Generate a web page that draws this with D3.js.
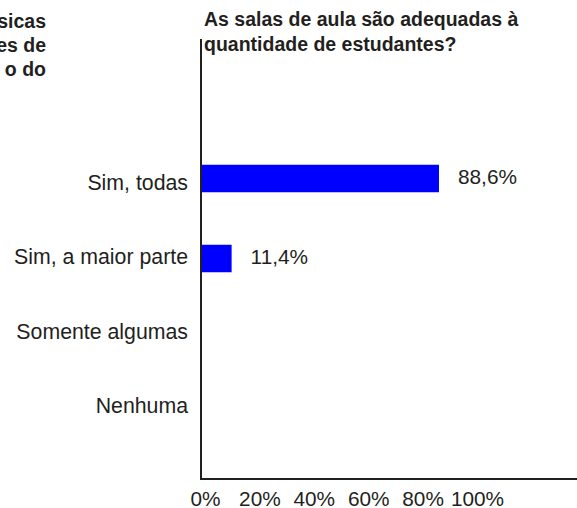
<!DOCTYPE html>
<html>
<head>
<meta charset="utf-8">
<script src="https://cdn.jsdelivr.net/npm/d3@7"></script>
<style>
  body { margin: 0; background: #fff; }
  text { font-family: "Liberation Sans", Arial, sans-serif; fill: #231f20; }
</style>
</head>
<body>
<div class="box"></div>
<script>
// DATA
const categories = ['Sim, todas', 'Sim, a maior parte', 'Somente algumas', 'Nenhuma'];
const values = [88.6, 11.4, 0, 0];
const valueLabels = ['88,6%', '11,4%', '', ''];
const tickValues = [0, 20, 40, 60, 80, 100];
const tickLabels = ['0%', '20%', '40%', '60%', '80%', '100%'];
const titleLines = ['As salas de aula são adequadas à', 'quantidade de estudantes?'];
// cut-off title of the neighbouring chart
const sideLines = ['sicas', 'es de', 'o do'];

// SETUP
const dims = {width: 577, height: 508};

const svg = d3.select('.box')
              .append('svg')
              .attr('width', dims.width)
              .attr('height', dims.height);

// scales
const x = d3.scaleLinear().domain([0, 100]).range([201, 469.6]);
const xTick = d3.scaleLinear().domain([0, 100]).range([205, 477]); // labels sit a bit off in the original
const y = d3.scalePoint().domain(categories).range([178.5, 418.5]);
const yLab = d3.scalePoint().domain(categories).range([189.5, 413]);
const barH = 27.5;

// titles
svg.append('g')
   .selectAll('text')
   .data(titleLines)
   .enter()
   .append('text')
   .attr('x', 204)
   .attr('y', (d, i) => 26 + i * 25)
   .attr('font-size', '19.5px')
   .attr('font-weight', 'bold')
   .text(d => d);

svg.append('g')
   .selectAll('text')
   .data(sideLines)
   .enter()
   .append('text')
   .attr('x', 46)
   .attr('y', (d, i) => 28 + i * 24)
   .attr('text-anchor', 'end')
   .attr('font-size', '19.5px')
   .attr('font-weight', 'bold')
   .text(d => d);

// bars
svg.append('g')
   .selectAll('rect')
   .data(values)
   .enter()
   .append('rect')
   .attr('x', x(0))
   .attr('y', (d, i) => y(categories[i]) - barH / 2)
   .attr('width', d => x(d) - x(0))
   .attr('height', d => d > 0 ? barH : 0)
   .attr('fill', '#0000ff');

// value labels
svg.append('g')
   .selectAll('text')
   .data(values)
   .enter()
   .append('text')
   .attr('x', d => x(d) + 19)
   .attr('y', (d, i) => y(categories[i]) + 5.5)
   .attr('font-size', '20.8px')
   .text((d, i) => valueLabels[i]);

// category labels
svg.append('g')
   .selectAll('text')
   .data(categories)
   .enter()
   .append('text')
   .attr('x', 188)
   .attr('y', d => yLab(d))
   .attr('text-anchor', 'end')
   .attr('font-size', '21.3px')
   .text(d => d);

// x tick labels
const xAxis = d3.axisBottom(xTick)
                .tickValues(tickValues)
                .tickSize(0)
                .tickFormat((d, i) => tickLabels[i]);

const gx = svg.append('g')
              .attr('transform', 'translate(0, 488)')
              .call(xAxis);
gx.select('.domain').remove();
gx.selectAll('text')
  .attr('dy', '0.71em')
  .attr('font-size', '20.8px')
  .attr('font-family', '"Liberation Sans", Arial, sans-serif')
  .attr('fill', '#231f20');

// axis lines
svg.append('path')
   .attr('d', `M${x(0)},39 V479 H${dims.width}`)
   .attr('fill', 'none')
   .attr('stroke', '#231f20')
   .attr('stroke-width', 2);
</script>
</body>
</html>
